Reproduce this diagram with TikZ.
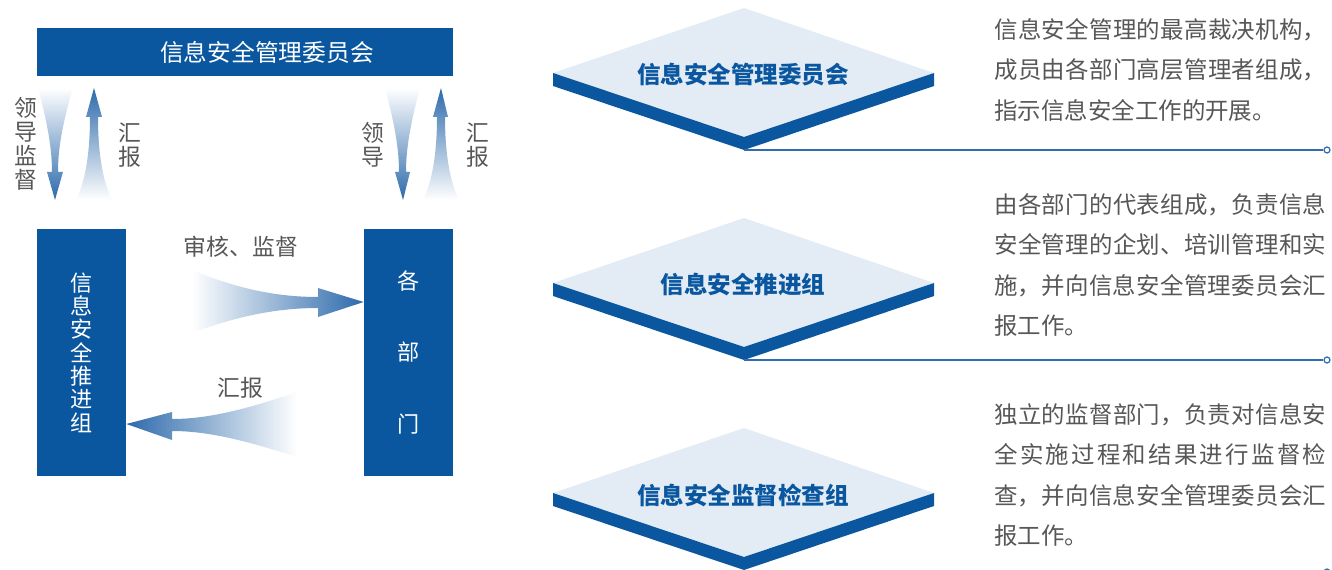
\documentclass[tikz,border=0pt]{standalone}
\usepackage{fontspec}
\setmainfont{Noto Sans CJK SC}
\usetikzlibrary{positioning}
\XeTeXlinebreaklocale "zh"
\XeTeXlinebreakskip=0pt plus 3pt
\definecolor{deepblue}{HTML}{0A57A0}
\definecolor{paleblue}{HTML}{E3ECF5}
\definecolor{arrowblue}{HTML}{2D6AAB}
\definecolor{lineblue}{HTML}{2F6DB0}
\definecolor{labelgray}{HTML}{575757}
\begin{document}
\begin{tikzpicture}[x=0.02cm, y=-0.02cm,
	bluebox/.style={rectangle, fill=deepblue, inner sep=0pt, text=white, align=center},
	graytext/.style={text=labelgray, font=\fontsize{13}{13.6}\selectfont, align=center, inner sep=0pt},
	tiertext/.style={text=deepblue, font=\bfseries\fontsize{13.4}{16}\selectfont, inner sep=0pt},
	desc/.style={text=labelgray, font=\fontsize{13.35}{23}\selectfont, text width=6.64cm, align=justify, inner sep=0pt, anchor=north west},
	link/.style={draw=lineblue, line width=0.7pt},
	enddot/.style={circle, draw=lineblue, fill=white, line width=0.7pt, inner sep=0pt, minimum size=1.2mm},
	]
	\useasboundingbox (0,0) rectangle (1332,570);
	
	%Boxes
	\node[bluebox, font=\fontsize{13.5}{16}\selectfont, minimum width=8.32cm, minimum height=0.96cm] (committee) at (245,52) {\hspace*{0.88cm}信息安全管理委员会};
	\node[bluebox, font=\fontsize{12.6}{13.3}\selectfont, minimum width=1.78cm, minimum height=4.94cm] (promo) at (81.5,352.5) {信\\息\\安\\全\\推\\进\\组};
	\node[bluebox, font=\fontsize{12.6}{40.8}\selectfont, minimum width=1.78cm, minimum height=4.94cm] (dept) at (408.5,352.5) {各\\部\\门};
	
	%Labels
	\node[graytext] (leadA)   at (26,144)  {领\\导\\监\\督};
	\node[graytext] (reportA) at (130,145) {汇\\报};
	\node[graytext] (leadB)   at (373,145) {领\\导};
	\node[graytext] (reportB) at (478,145) {汇\\报};
	\node[graytext] (audit)   at (241,247) {审核、监督};
	\node[graytext] (reportC) at (240,388) {汇报};
	
	%Arrows
	\shade[top color=white, bottom color=arrowblue] (38,88) .. controls (48,125) and (52,150) .. (52,172) -- (47,172) -- (55,200) -- (63,172) -- (58,172) .. controls (58,150) and (62,125) .. (73,88) -- cycle;
	\shade[top color=arrowblue, bottom color=white] (94,88) -- (102,117) -- (98,117) .. controls (98,150) and (102,180) .. (112,200) -- (76,200) .. controls (86,180) and (90,150) .. (90,117) -- (86,117) -- cycle;
	\shade[top color=white, bottom color=arrowblue] (385,88) .. controls (395,125) and (399,150) .. (399,172) -- (395,172) -- (403,200) -- (410,172) -- (406,172) .. controls (406,150) and (410,125) .. (420,88) -- cycle;
	\shade[top color=arrowblue, bottom color=white] (441,88) -- (448,117) -- (445,117) .. controls (445,150) and (449,180) .. (459,200) -- (423,200) .. controls (433,180) and (437,150) .. (437,117) -- (433,117) -- cycle;
	\shade[left color=white, right color=arrowblue] (192,270) .. controls (240,290) and (280,297) .. (318,297) -- (318,288) -- (dept.west |- 0,302) -- (318,317) -- (318,308) .. controls (280,308) and (240,315) .. (192,333) -- cycle;
	\shade[left color=arrowblue, right color=white] (promo.east |- 0,424) -- (172,412) -- (172,419) .. controls (210,419) and (250,408) .. (297,392) -- (297,457) .. controls (250,442) and (210,431) .. (172,431) -- (172,440) -- cycle;
	
	%Tiers
	\foreach \y/\n in {73/1, 283/2, 493/3}{
		\fill[paleblue] (744,\y-65) -- (934,\y) -- (744,\y+64) -- (553,\y) -- cycle;
		\fill[deepblue] (553,\y) -- (744,\y+64) -- (934,\y) -- (934,\y+13) -- (744,\y+77) -- (553,\y+13) -- cycle;
		\coordinate (base\n) at (744,\y+77);
	}
	\node[tiertext] (tier1) at (743,75)  {信息安全管理委员会};
	\node[tiertext] (tier2) at (743,285) {信息安全推进组};
	\node[tiertext] (tier3) at (743,495) {信息安全监督检查组};
	
	%Lines
	\node[enddot] (end1) at (1327,150) {};
	\node[enddot] (end2) at (1327,360) {};
	\node[enddot] (end3) at (1327,572) {};
	\draw[link] (base1) -- (end1);
	\draw[link] (base2) -- (end2);
	\draw[link] (base3 |- end3) -- (end3);
	
	%Text
	\node[desc] (info1) at (994,18)  {信息安全管理的最高裁决机构，\linebreak 成员由各部门高层管理者组成，\linebreak 指示信息安全工作的开展。};
	\node[desc] (info2) at (994,193) {由各部门的代表组成，负责信息\linebreak 安全管理的企划、培训管理和实\linebreak 施，并向信息安全管理委员会汇\linebreak 报工作。};
	\node[desc] (info3) at (994,403) {独立的监督部门，负责对信息安\linebreak 全实施过程和结果进行监督检\linebreak 查，并向信息安全管理委员会汇\linebreak 报工作。};
	
\end{tikzpicture}
\end{document}
